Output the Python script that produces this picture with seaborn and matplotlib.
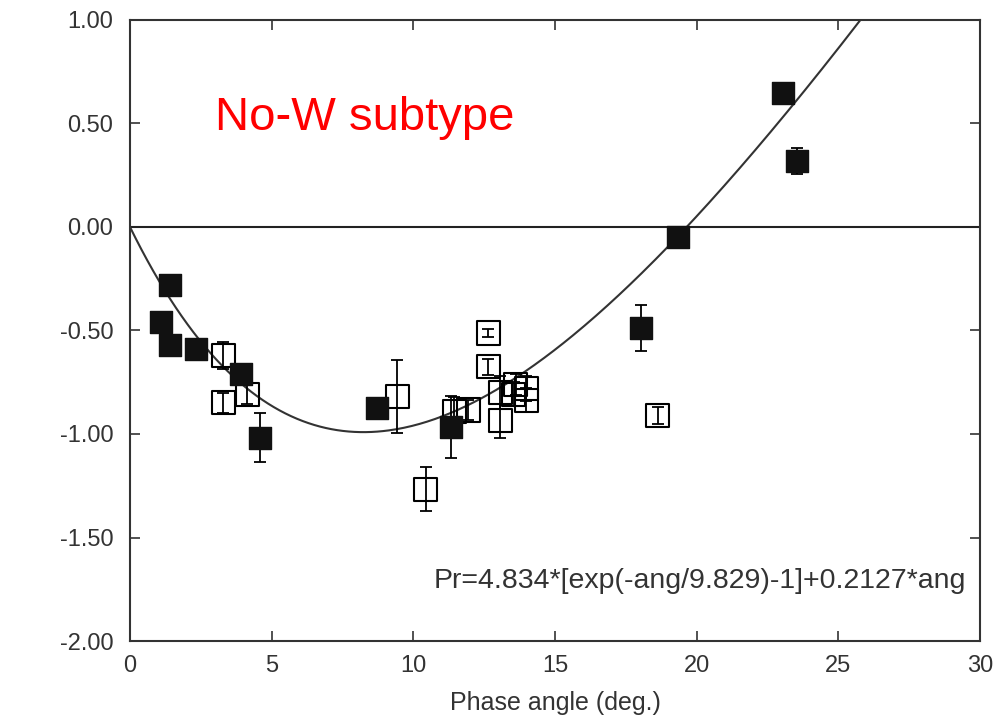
import numpy as np
import pandas as pd
import matplotlib
matplotlib.use("Agg")
import matplotlib.pyplot as plt
import seaborn as sns
from matplotlib.ticker import FormatStrFormatter

# ---- data ----
filled_x = [1.11, 1.41, 1.41, 2.33, 3.92, 4.60, 8.72, 11.33, 18.05, 19.33, 23.05, 23.54]
filled_y = [-0.459, -0.278, -0.568, -0.589, -0.71, -1.017, -0.874, -0.966, -0.488, -0.046, 0.645, 0.319]
filled_err = [0.0, 0.0, 0.0, 0.0, 0.0, 0.12, 0.02, 0.15, 0.11, 0.0, 0.0, 0.065]

open_x = [3.30, 3.30, 4.13, 9.44, 10.43, 11.44, 11.93, 12.65, 12.65,
          13.06, 13.06, 13.55, 13.62, 13.98, 13.98, 18.62]
open_y = [-0.621, -0.85, -0.807, -0.819, -1.266, -0.889, -0.884, -0.512, -0.676,
          -0.80, -0.937, -0.807, -0.76, -0.78, -0.836, -0.91]
open_err = [0.067, 0.05, 0.05, 0.177, 0.106, 0.07, 0.05, 0.02, 0.04,
            0.08, 0.08, 0.06, 0.05, 0.06, 0.06, 0.04]

# fit coefficients shown on the chart
fit_a, fit_b, fit_c = 4.834, 9.829, 0.2127

x_ticks = [0, 5, 10, 15, 20, 25, 30]
y_ticks = [1.00, 0.50, 0.00, -0.50, -1.00, -1.50, -2.00]

sns.set_theme(style="white")
plt.rcParams["font.family"] = ["Liberation Sans", "DejaVu Sans"]
plt.rcParams["axes.unicode_minus"] = False

fig = plt.figure(figsize=(10.03, 7.20), dpi=100)
ax = fig.add_axes([130 / 1003, 1 - 641 / 720, (980 - 130) / 1003, (641 - 20) / 720])

# fit curve
ang = np.linspace(0, 27, 400)
fit_df = pd.DataFrame({"ang": ang,
                       "pr": fit_a * (np.exp(-ang / fit_b) - 1) + fit_c * ang})
sns.lineplot(data=fit_df, x="ang", y="pr", ax=ax, color="#333333", lw=1.5, zorder=2)

ax.axhline(0, color="#222222", lw=1.5, zorder=1)

# error bars
ax.errorbar(open_x, open_y, yerr=open_err, fmt="none", ecolor="black",
            elinewidth=1.3, capsize=4.5, capthick=1.3, zorder=3)
ax.errorbar(filled_x, filled_y, yerr=filled_err, fmt="none", ecolor="black",
            elinewidth=1.3, capsize=4.5, capthick=1.3, zorder=3)

open_df = pd.DataFrame({"x": open_x, "y": open_y})
filled_df = pd.DataFrame({"x": filled_x, "y": filled_y})
sns.scatterplot(data=open_df, x="x", y="y", ax=ax, marker="s", s=275,
                facecolors="none", edgecolor="black", linewidth=1.5, zorder=4)
sns.scatterplot(data=filled_df, x="x", y="y", ax=ax, marker="s", s=265,
                color="#111111", edgecolor="#111111", linewidth=1.0, zorder=5)

ax.set_xlim(0, 30)
ax.set_ylim(-2.0, 1.0)
ax.set_xticks(x_ticks)
ax.set_yticks(y_ticks)
ax.yaxis.set_major_formatter(FormatStrFormatter("%.2f"))

for sp in ax.spines.values():
    sp.set_visible(True)
    sp.set_color("#333333")
    sp.set_linewidth(1.5)

ax.tick_params(axis="both", which="major", direction="in", length=7, width=1.2,
               color="#333333", labelcolor="#333333", labelsize=17,
               top=True, right=True, bottom=True, left=True)
ax.tick_params(axis="y", pad=12)
ax.tick_params(axis="x", pad=10)

ax.set_xlabel("Phase angle (deg.)", fontsize=18, color="#333333", labelpad=10)
ax.set_ylabel("")

ax.text(0.10, 0.842, "No-W subtype", transform=ax.transAxes, color="#ff0000",
        fontsize=34, ha="left", va="center")
ax.text(0.983, 0.097, "Pr=4.834*[exp(-ang/9.829)-1]+0.2127*ang",
        transform=ax.transAxes, color="#333333", fontsize=20.5,
        ha="right", va="center")

fig.savefig("out.png", dpi=100)
